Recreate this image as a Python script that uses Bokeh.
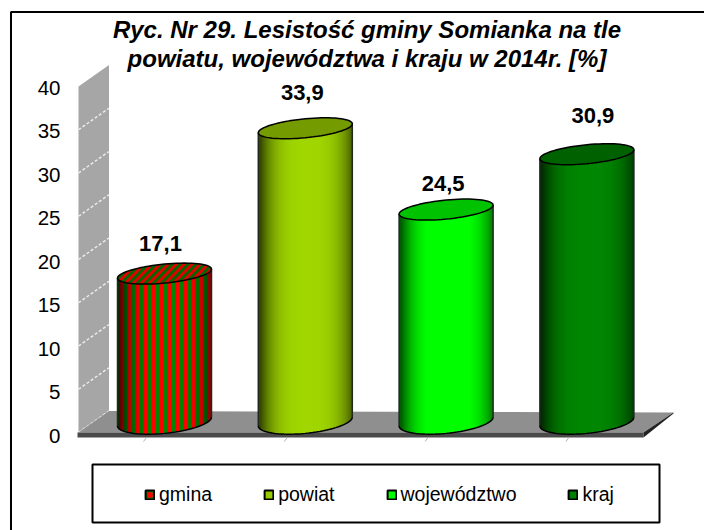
from bokeh.plotting import figure
from bokeh.models import Legend, LegendItem, FixedTicker, ColumnDataSource
from bokeh.core.properties import value
from bokeh.embed import file_html
from bokeh.resources import INLINE
import math

title_lines = ["Ryc. Nr 29. Lesistość gminy Somianka na tle", "powiatu, województwa i kraju w 2014r. [%]"]
categories = ["gmina", "powiat", "województwo", "kraj"]
values = [17.1, 33.9, 24.5, 30.9]
value_labels = ["17,1", "33,9", "24,5", "30,9"]
colors = [(0, 128, 0), (153, 204, 0), (0, 255, 0), (0, 128, 0)]
label_dx = [-4, -3, -3, 6]
label_dy = [30, 36, 26, 39]
y_ticks = [0, 5, 10, 15, 20, 25, 30, 35, 40]

FONT = "Liberation Sans"
XU, YU = 140.8, 8.69
X1, Y0 = 164.0, 435.0
L, R, T, B = 0, 704, 0, 530
def dx(px): return 1 + (px - X1) / XU
def dy(py): return (Y0 - py) / YU

p = figure(width=704, height=530, output_backend="svg", toolbar_location=None,
           x_range=(dx(L), dx(R)), y_range=(dy(B), dy(T)),
           min_border_left=0, min_border_right=0, min_border_top=0, min_border_bottom=0,
           frame_height=B - T, frame_width=R - L,
           background_fill_color="white", border_fill_color="white", outline_line_color=None)
p.grid.visible = False
p.xaxis.visible = False
ax = p.yaxis[0]
ax.fixed_location = dx(62)
ax.ticker = FixedTicker(ticks=y_ticks)
ax.axis_line_color = None
ax.major_tick_line_color = None
ax.minor_tick_line_color = None
ax.major_tick_out = 0
ax.major_tick_in = 0
ax.major_label_standoff = 2
ax.major_label_text_font = FONT
ax.major_label_text_font_size = "20.5px"
ax.major_label_text_color = "black"

# chart border: only its top and left edges fall inside the picture
p.line([dx(10.5), dx(10.5), dx(704)], [dy(530), dy(11.5), dy(11.5)], line_color="black", line_width=2)

p.text([dx(366.5), dx(366.5)], [dy(29), dy(58)], text=title_lines, text_align="center", text_baseline="middle",
       text_font=value(FONT), text_font_size="24px", text_font_style="bold italic", text_color="black")

# legend frame
p.quad(left=[dx(92)], right=[dx(659)], top=[dy(464)], bottom=[dy(522)],
       fill_color="white", line_color="black", line_width=2)

# wall
WX0, WX1, WY, DEPTH = 78, 108.5, 432, 21.5
WU = 8.65
p.patch([dx(WX0), dx(WX1), dx(WX1), dx(WX0)],
        [dy(WY - 40 * WU), dy(WY - DEPTH - 40 * WU), dy(WY - DEPTH), dy(WY)],
        fill_color="#a6a6a6", line_color=None)
gv = [v for v in y_ticks if v < 40]
p.segment([dx(WX0)] * len(gv), [dy(WY - v * WU) for v in gv],
          [dx(WX1)] * len(gv), [dy(WY - DEPTH - v * WU) for v in gv],
          line_color="#ececec", line_width=1.5, line_dash="3 2")
# floor
p.patch([dx(78), dx(108.5), dx(673), dx(643)], [dy(432), dy(410.5), dy(412), dy(432)],
        fill_color="#8f8f8f", line_color=None)
p.patch([dx(77), dx(643), dx(643), dx(77)], [dy(432), dy(432), dy(437), dy(437)],
        fill_color="#4a4a4a", line_color=None)
p.patch([dx(643), dx(673), dx(673), dx(643)], [dy(432), dy(412), dy(413), dy(437)],
        fill_color="#222222", line_color=None)
p.segment([dx(X1 + XU * i - 21) for i in range(4)], [dy(441)] * 4,
          [dx(X1 + XU * i - 18) for i in range(4)], [dy(437)] * 4, line_color="#b0b0b0", line_width=1)

A, Bb, S = 47.0, 9.5, 0.095
BASE = 421.0
BU = 8.65
def hexc(c): return "#%02x%02x%02x" % tuple(max(0, min(255, int(round(v)))) for v in c)
def shade(tt):
    d = abs(tt - 0.05)
    return 0.36 + 0.69 * max(0, 1 - d ** 3.2)

for i, (v, c) in enumerate(zip(values, colors)):
    cx = X1 + XU * i
    top_y = BASE - v * BU
    # solid underlay so no seam between strips shows what lies behind
    angs = [math.pi * j / 40 for j in range(41)]
    low_x = [cx + A * math.cos(a) for a in angs]
    low_y = [BASE - S * A * math.cos(a) + Bb * 1.25 * math.sin(a) for a in angs]
    p.patch([dx(q) for q in low_x] + [dx(cx - A), dx(cx + A)],
            [dy(q) for q in low_y] + [dy(top_y + S * A), dy(top_y - S * A)],
            fill_color=hexc([q * 0.8 for q in c]), line_color=None)
    l, r, b, tp, col = [], [], [], [], []
    n = int(2 * A)
    for k in range(n):
        px0 = cx - A + k
        mid = px0 + 0.5 - cx
        tt = mid / A
        base_c = c
        if i == 0 and (k + 2) // 4 % 2 == 1:
            base_c = (255, 0, 0)
        sh = shade(tt)
        col.append(hexc([q * sh for q in base_c]))
        l.append(dx(px0)); r.append(dx(min(px0 + 1.7, cx + A)))
        yb = BASE - S * mid + Bb * 1.25 * math.sqrt(max(0, 1 - tt * tt))
        yt = top_y - S * mid
        b.append(dy(yb)); tp.append(dy(yt))
    p.quad(left=l, right=r, bottom=b, top=tp, fill_color=col, line_color=None)
    p.segment([dx(cx - A), dx(cx + A)], [dy(BASE + S * A), dy(BASE - S * A)],
              [dx(cx - A), dx(cx + A)], [dy(top_y + S * A), dy(top_y - S * A)],
              line_color="#202820", line_width=1.5)
    p.line([dx(q) for q in low_x], [dy(q) for q in low_y], line_color="black", line_width=1.5)
    angs = [2 * math.pi * j / 72 for j in range(73)]
    ex = [dx(cx + A * math.cos(a)) for a in angs]
    ey = [dy(top_y - S * A * math.cos(a) + Bb * math.sin(a)) for a in angs]
    if i == 0:
        cl, cr, cb, ct, cc = [], [], [], [], []
        for kx in range(n):
            mx = kx + 0.5 - A
            half = Bb * math.sqrt(max(0, 1 - (mx / A) ** 2))
            yc = top_y - S * mx
            for ky in range(int(yc - half) + 1, int(yc + half)):
                cl.append(dx(cx + mx - 0.5)); cr.append(dx(cx + mx + 1.0))
                ct.append(dy(ky)); cb.append(dy(ky + 1.5))
                cc.append("#e80000" if (kx + ky) // 4 % 2 == 0 else "#006800")
        p.patch(ex, ey, fill_color="#006800", line_color=None)
        p.quad(left=cl, right=cr, top=ct, bottom=cb, fill_color=cc, line_color=None)
        p.patch(ex, ey, fill_color=None, line_color="black", line_width=1.5)
    else:
        p.patch(ex, ey, fill_color=hexc([q * 0.76 for q in c]), line_color="black", line_width=1.5)

src = ColumnDataSource(dict(
    x=[dx(X1 + XU * i + d) for i, d in enumerate(label_dx)],
    y=[dy(BASE - v * BU - d) for v, d in zip(values, label_dy)],
    t=value_labels))
p.text("x", "y", text="t", source=src, text_align="center", text_baseline="middle",
       text_font=value(FONT), text_font_size="22px", text_font_style="bold", text_color="black")

# legend (glyph sources lie outside the visible range)
items = []
for i, (name, c) in enumerate(zip(categories, colors)):
    r_ = p.quad(left=[-50], right=[-49], top=[-50], bottom=[-51],
                fill_color=hexc(c), line_color="black", line_width=2)
    rs = [r_]
    if i == 0:
        rs.append(p.scatter(x=[-50], y=[-50], marker="square", size=5,
                            fill_color="#ff0000", line_color="#ff0000", line_width=1))
    items.append(LegendItem(label=name, renderers=rs))
leg = Legend(items=items, orientation="horizontal", location=(144, 24), spacing=51,
             glyph_width=11, glyph_height=11, label_standoff=4, padding=0, margin=0,
             border_line_color=None, background_fill_alpha=0,
             label_text_font=FONT, label_text_font_size="19.5px", label_text_color="black",
             label_height=14)
p.add_layout(leg, "center")

open("out.html", "w").write(file_html(p, INLINE))
